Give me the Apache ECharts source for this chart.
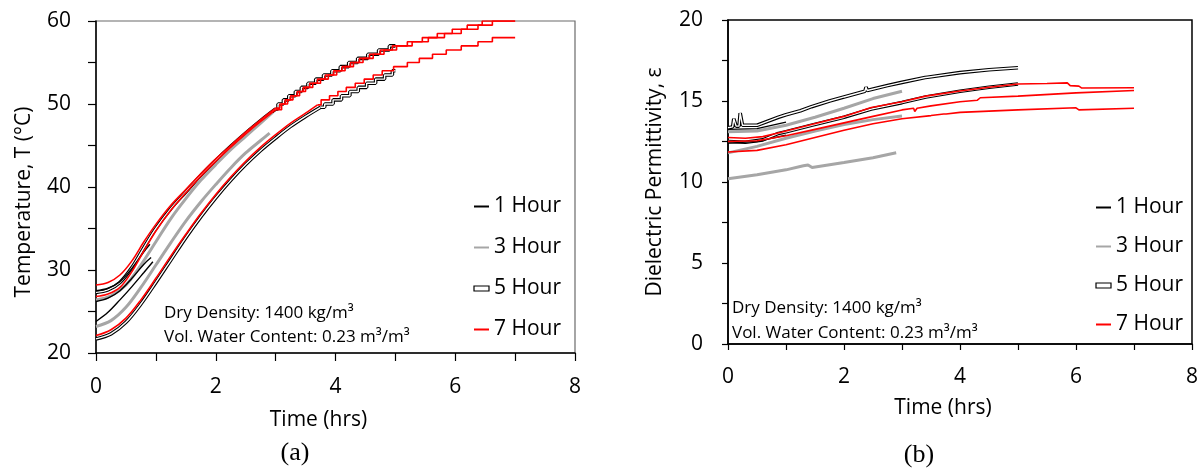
<!DOCTYPE html>
<html>
<head>
<meta charset="utf-8">
<script src="https://cdn.jsdelivr.net/npm/echarts@6/dist/echarts.min.js"></script>
<style>
html,body{margin:0;padding:0;background:#fff;}
#chart{width:1201px;height:468px;}
</style>
</head>
<body>
<div id="chart"></div>
<script>
// ---------------- DATA: panel (a) Temperature (°C) vs Time (hrs) ----------------
// 1 Hour (thin black)
const a1h_1 = [[0,27.5],[0.2,27.8],[0.4,28.6],[0.6,30.2],[0.8,32.2],[0.9,33.1]];
const a1h_2 = [[0,26.2],[0.2,26.6],[0.4,27.5],[0.6,29.0],[0.8,30.7],[0.92,31.5]];
const a1h_3 = [[0,23.8],[0.2,24.9],[0.4,26.4],[0.6,28.0],[0.8,29.7],[0.95,31.0]];
// 3 Hour (gray)
const a3h_1 = [[0,26.4],[0.25,26.9],[0.5,28.2],[0.75,30.6],[1.0,33.4],[1.25,36.2],[1.5,38.6],[1.75,40.8],[2.0,42.7],[2.25,44.5],[2.5,46.1],[2.75,47.7],[2.95,49.0]];
const a3h_2 = [[0,23.2],[0.25,23.9],[0.5,25.5],[0.75,27.9],[1.0,30.6],[1.25,33.3],[1.5,35.9],[1.75,38.2],[2.0,40.3],[2.25,42.3],[2.5,44.1],[2.75,45.6],[2.9,46.5]];
// 5 Hour (double black) smooth part + stepped part
const a5h_1 = [[0,27.3],[0.2,27.6],[0.4,28.5],[0.6,30.3],[0.8,32.7],[1.0,35.0],[1.25,37.4],[1.5,39.4],[1.75,41.4],[2.0,43.2],[2.25,44.9],[2.5,46.5],[2.75,48.0],[3.0,49.4]];
const a5h_1s = [[3.0,49.4],[3.04,50],[3.13,50.5],[3.22,51],[3.33,51.5],[3.43,52],[3.54,52.5],[3.67,53],[3.8,53.5],[3.94,54],[4.08,54.5],[4.22,55],[4.37,55.5],[4.54,56],[4.72,56.5],[4.9,57],[5.0,57]];
const a5h_2 = [[0,21.7],[0.25,22.3],[0.5,23.7],[0.75,25.9],[1.0,28.5],[1.25,31.2],[1.5,33.9],[1.75,36.4],[2.0,38.7],[2.25,40.8],[2.5,42.7],[2.75,44.4],[3.0,45.9],[3.25,47.3],[3.5,48.5],[3.75,49.6]];
const a5h_2s = [[3.75,49.6],[3.82,50],[3.96,50.5],[4.1,51],[4.24,51.5],[4.38,52],[4.52,52.5],[4.67,53],[4.82,53.5],[4.95,54],[5.0,54]];
// 7 Hour (red) smooth part + stepped part
const a7h_1 = [[0,28.2],[0.2,28.5],[0.4,29.4],[0.6,31.1],[0.8,33.4],[1.0,35.5],[1.25,37.8],[1.5,39.7],[1.75,41.6],[2.0,43.4],[2.25,45.0],[2.5,46.6],[2.75,48.1],[3.0,49.5]];
const a7h_1s = [[3.0,49.5],[3.07,50],[3.16,50.5],[3.25,51],[3.36,51.5],[3.46,52],[3.57,52.5],[3.7,53],[3.83,53.5],[3.97,54],[4.11,54.5],[4.25,55],[4.4,55.5],[4.57,56],[4.75,56.5],[4.95,57],[5.2,57.5],[5.45,58],[5.7,58.5],[5.95,59],[6.2,59.5],[6.45,60],[7.0,60]];
const a7h_2 = [[0,26.8],[0.2,27.1],[0.4,27.9],[0.6,29.8],[0.8,32.3],[1.0,34.7],[1.25,37.2],[1.5,39.3],[1.75,41.3],[2.0,43.1],[2.25,44.8],[2.5,46.4],[2.75,47.9],[3.0,49.3]];
const a7h_2s = [[3.0,49.3],[3.1,50],[3.2,50.5],[3.29,51],[3.4,51.5],[3.5,52],[3.62,52.5],[3.75,53],[3.88,53.5],[4.02,54],[4.16,54.5],[4.3,55],[4.46,55.5],[4.63,56],[4.81,56.5],[5.02,57],[5.28,57.5],[5.55,58],[5.82,58.5],[6.1,59],[6.38,59.5],[6.62,60],[7.0,60]];
const a7h_3 = [[0,22.1],[0.25,22.8],[0.5,24.2],[0.75,26.4],[1.0,29.0],[1.25,31.7],[1.5,34.3],[1.75,36.8],[2.0,39.1],[2.25,41.2],[2.5,43.1],[2.75,44.8],[3.0,46.3],[3.25,47.7],[3.5,48.9],[3.7,49.9]];
const a7h_3s = [[3.7,49.9],[3.76,50.5],[3.9,51],[4.04,51.5],[4.18,52],[4.33,52.5],[4.48,53],[4.63,53.5],[4.78,54],[4.97,54.5],[5.2,55],[5.4,55.5],[5.62,56],[5.85,56.5],[6.1,57],[6.38,57.5],[6.62,58],[7.0,58]];

// ---------------- DATA: panel (b) Dielectric permittivity vs Time (hrs) ----------------
const b1h_1 = [[0,13.25],[0.5,13.3],[1.0,13.7]];
const b1h_2 = [[0,12.4],[0.5,12.5],[1.0,12.9]];
const b3h_1 = [[0,13.1],[0.5,13.15],[1.0,13.5],[1.5,14.0],[2.0,14.55],[2.5,15.15],[3.0,15.6]];
const b3h_2 = [[0,11.8],[0.5,12.2],[1.0,12.7],[1.5,13.15],[2.0,13.55],[2.5,13.85],[3.0,14.07]];
const b3h_3 = [[0,10.2],[0.5,10.45],[1.0,10.75],[1.3,11.0],[1.38,11.05],[1.45,10.9],[2.0,11.2],[2.5,11.5],[2.9,11.8]];
const b5h_1 = [[0,13.35],[0.08,13.4],[0.1,13.9],[0.12,14.0],[0.14,13.45],[0.19,13.45],[0.21,14.25],[0.23,14.3],[0.25,13.5],[0.5,13.5],[0.87,14.0],[1.0,14.15],[1.25,14.4],[1.44,14.65],[1.75,15.0],[2.0,15.25],[2.36,15.6],[2.38,15.85],[2.4,15.65],[2.75,15.95],[3.0,16.15],[3.4,16.45],[3.42,16.55],[3.44,16.47],[4.0,16.75],[4.5,16.93],[5.0,17.05]];
const b5h_2 = [[0,12.5],[0.3,12.45],[0.6,12.6],[0.87,13.0],[1.0,13.1],[1.44,13.5],[2.0,14.0],[2.47,14.5],[3.0,14.9],[3.41,15.25],[4.0,15.6],[4.5,15.85],[5.0,16.05]];
const b7h_1 = [[0,12.75],[0.3,12.7],[0.6,12.8],[0.9,13.05],[1.44,13.55],[2.0,14.05],[2.47,14.6],[3.0,14.95],[3.41,15.3],[4.0,15.62],[4.5,15.85],[5.0,16.05],[5.5,16.08],[5.85,16.12],[5.9,15.95],[6.05,15.92],[6.1,15.8],[7.0,15.82]];
const b7h_2 = [[0,12.5],[0.5,12.55],[1.0,12.85],[1.5,13.25],[2.0,13.65],[2.5,14.05],[3.0,14.45],[3.2,14.55],[3.22,14.35],[3.26,14.55],[3.5,14.7],[4.0,14.95],[4.3,15.05],[4.35,15.2],[5.0,15.3],[6.0,15.5],[7.0,15.65]];
const b7h_3 = [[0,11.85],[0.5,11.95],[1.0,12.3],[1.5,12.75],[2.0,13.2],[2.5,13.6],[3.0,13.9],[3.5,14.1],[3.72,14.2],[3.74,14.3],[3.76,14.2],[4.0,14.3],[5.0,14.45],[6.0,14.58],[6.05,14.45],[7.0,14.55]];

const seriesNames = ['1 Hour','3 Hour','5 Hour','7 Hour'];
const noteLine1 = 'Dry Density: 1400 kg/m³';
const noteLine2 = 'Vol. Water Content: 0.23 m³/m³';

// ---------------- CHART ----------------
const FONT = '"Open Sans", "Noto Sans", sans-serif';
const BLACK = '#000000', GRAY = '#a6a6a6', RED = '#ff0000';

function ln(name, data, gi, color, width, extra) {
  return Object.assign({
    type: 'line', name: name, data: data, xAxisIndex: gi, yAxisIndex: gi,
    symbol: 'none', showSymbol: false, animation: false, silent: true,
    lineStyle: { color: color, width: width }, itemStyle: { color: color },
    emphasis: { disabled: true }
  }, extra || {});
}
function dbl(data, gi, extra) {
  return [ln('5 Hour', data, gi, BLACK, 3.6, extra), ln('5 Hour', data, gi, '#ffffff', 1.4, extra)];
}
const SM = { smooth: 0.35 };
const ST = { step: 'end' };

const series = [].concat(
  // panel a
  dbl(a5h_1, 0, SM), dbl(a5h_1s, 0, ST), dbl(a5h_2, 0, SM), dbl(a5h_2s, 0, ST),
  [ln('3 Hour', a3h_1, 0, GRAY, 3, SM), ln('3 Hour', a3h_2, 0, GRAY, 3, SM)],
  [ln('1 Hour', a1h_1, 0, BLACK, 1.4, SM), ln('1 Hour', a1h_2, 0, BLACK, 1.4, SM), ln('1 Hour', a1h_3, 0, BLACK, 1.4, SM)],
  [ln('7 Hour', a7h_1, 0, RED, 1.6, SM), ln('7 Hour', a7h_1s, 0, RED, 1.6, ST),
   ln('7 Hour', a7h_2, 0, RED, 1.6, SM), ln('7 Hour', a7h_2s, 0, RED, 1.6, ST),
   ln('7 Hour', a7h_3, 0, RED, 1.6, SM), ln('7 Hour', a7h_3s, 0, RED, 1.6, ST)],
  // panel b
  dbl(b5h_1, 1), dbl(b5h_2, 1),
  [ln('3 Hour', b3h_1, 1, GRAY, 3), ln('3 Hour', b3h_2, 1, GRAY, 3), ln('3 Hour', b3h_3, 1, GRAY, 3)],
  [ln('1 Hour', b1h_1, 1, BLACK, 1.3), ln('1 Hour', b1h_2, 1, BLACK, 1.3)],
  [ln('7 Hour', b7h_1, 1, RED, 1.6), ln('7 Hour', b7h_2, 1, RED, 1.6), ln('7 Hour', b7h_3, 1, RED, 1.6)]
);

function legendData() {
  return seriesNames.map(n => n === '5 Hour'
    ? { name: n, icon: 'rect', itemStyle: { opacity: 1, color: '#ffffff', borderColor: '#000000', borderWidth: 1.2 } }
    : { name: n });
}
function xAxisCfg(gi, labelMargin, tickLen, nameGap) {
  return {
    type: 'value', gridIndex: gi, min: 0, max: 8, interval: 2,
    name: 'Time (hrs)', nameLocation: 'middle', nameGap: nameGap,
    nameTextStyle: { fontFamily: FONT, fontSize: 21, color: '#000', padding: [0, 34, 0, 0] },
    axisLine: { show: true, onZero: false, lineStyle: { color: '#000', width: 1.5 } },
    axisTick: { show: true, inside: false, length: tickLen, lineStyle: { color: '#000', width: 1.2 } },
    minorTick: { show: true, splitNumber: 2, length: tickLen, lineStyle: { color: '#000', width: 1.2 } },
    axisLabel: { fontFamily: FONT, fontSize: 21, color: '#000', margin: labelMargin },
    splitLine: { show: false }
  };
}
function yAxisCfg(gi, min, max, interval, name, nameGap, tickLen, pad) {
  return {
    type: 'value', gridIndex: gi, min: min, max: max, interval: interval,
    name: name, nameLocation: 'middle', nameRotate: 90, nameGap: nameGap,
    nameTextStyle: { fontFamily: FONT, fontSize: 21, color: '#000', padding: pad },
    axisLine: { show: true, onZero: false, lineStyle: { color: '#000', width: 1.5 } },
    axisTick: { show: true, inside: false, length: tickLen, lineStyle: { color: '#000', width: 1.2 } },
    minorTick: { show: true, splitNumber: 2, length: tickLen, lineStyle: { color: '#000', width: 1.2 } },
    axisLabel: { fontFamily: FONT, fontSize: 21, color: '#000', margin: 25 },
    splitLine: { show: false }
  };
}
function legendCfg(left, top, gap) {
  return {
    data: legendData(), orient: 'vertical', left: left, top: top, itemWidth: 15, itemHeight: 5, itemGap: gap,
    selectedMode: false, itemStyle: { opacity: 0 },
    textStyle: { fontFamily: FONT, fontSize: 21, color: '#000' }
  };
}

const chart = echarts.init(document.getElementById('chart'), null, { renderer: 'canvas' });
chart.setOption({
  animation: false,
  backgroundColor: '#ffffff',
  grid: [
    { left: 96, top: 21, width: 479, height: 332, show: true, borderColor: '#6b6b6b', borderWidth: 1.2, backgroundColor: 'transparent' },
    { left: 728, top: 20, width: 466, height: 324, show: true, borderColor: '#000000', borderWidth: 1.5, backgroundColor: 'transparent' }
  ],
  xAxis: [xAxisCfg(0, 24, 8, 57), xAxisCfg(1, 23, 6, 54)],
  yAxis: [
    yAxisCfg(0, 20, 60, 10, 'Temperature, T (°C)', 61, 8, [0, 30, 0, 0]),
    yAxisCfg(1, 0, 20, 5, 'Dielectric Permittivity, ε', 62, 6, [0, 0, 0, 0])
  ],
  legend: [legendCfg(468, 191, 20), legendCfg(1090, 192, 18)],
  graphic: [
    { type: 'text', silent: true, style: { x: 164, y: 313, text: noteLine1, fontFamily: FONT, fontSize: 17, fill: '#000', verticalAlign: 'middle' } },
    { type: 'text', silent: true, style: { x: 164, y: 337, text: noteLine2, fontFamily: FONT, fontSize: 17, fill: '#000', verticalAlign: 'middle' } },
    { type: 'text', silent: true, style: { x: 732, y: 308, text: noteLine1, fontFamily: FONT, fontSize: 17, fill: '#000', verticalAlign: 'middle' } },
    { type: 'text', silent: true, style: { x: 732, y: 333, text: noteLine2, fontFamily: FONT, fontSize: 17, fill: '#000', verticalAlign: 'middle' } },
    { type: 'text', silent: true, style: { x: 295, y: 453, text: '(a)', fontFamily: '"Liberation Serif", "DejaVu Serif", serif', fontSize: 26, fill: '#000', align: 'center', verticalAlign: 'middle' } },
    { type: 'text', silent: true, style: { x: 919, y: 455, text: '(b)', fontFamily: '"Liberation Serif", "DejaVu Serif", serif', fontSize: 26, fill: '#000', align: 'center', verticalAlign: 'middle' } }
  ],
  series: series
});
</script>
</body>
</html>
